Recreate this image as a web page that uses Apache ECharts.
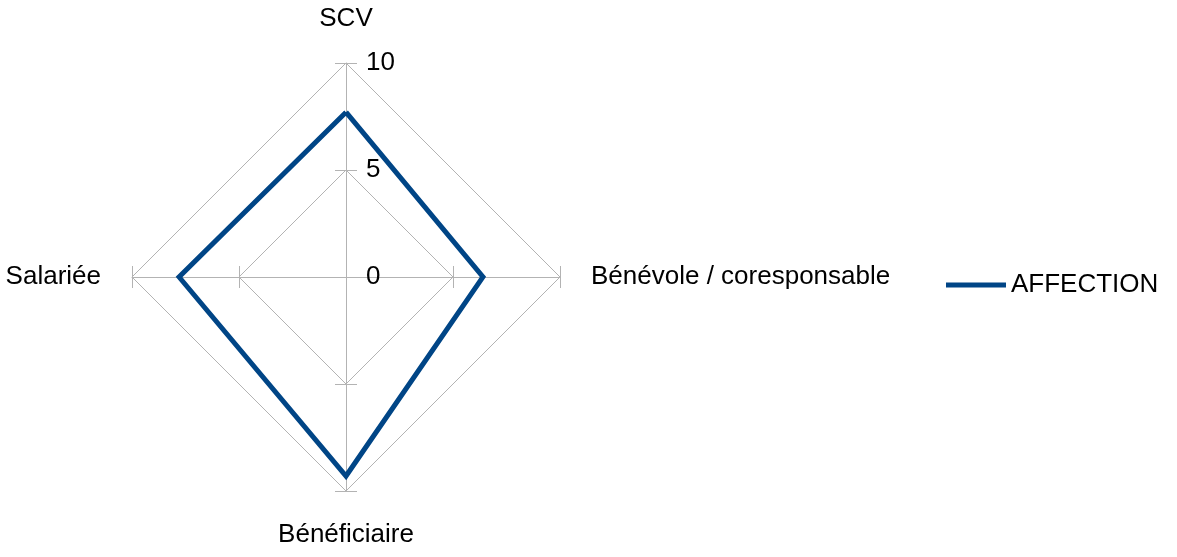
<!DOCTYPE html>
<html>
<head>
<meta charset="utf-8">
<script src="https://cdn.jsdelivr.net/npm/echarts@6/dist/echarts.min.js"></script>
<style>
  html, body { margin: 0; padding: 0; background: #fff; }
  #chart { width: 1177px; height: 557px; }
</style>
</head>
<body>
<div id="chart"></div>
<script>
// Radar axes, in drawing order (counter-clockwise from the top)
const axisNames = ['SCV', 'Salariée', 'Bénéficiaire', 'Bénévole / coresponsable'];
const affection = [7.7, 7.8, 9.3, 6.4];
const seriesName = 'AFFECTION';
const scaleMax = 10;
const scaleSplits = 2;

const FONT = 'Liberation Sans, Arial, sans-serif';
const FONT_SIZE = 26;
const GRID = '#b3b3b3';
const LINE = '#004586';

const center = [346, 277];
const radius = 214;

// only the vertical axis carries the scale labels, on its right-hand side
const indicators = axisNames.map((name, i) => {
  const ind = { name: name, min: 0, max: scaleMax };
  if (i === 0) ind.axisLabel = { show: true };
  return ind;
});

const chart = echarts.init(document.getElementById('chart'), null, { renderer: 'canvas' });
chart.setOption({
  animation: false,
  legend: {
    data: [seriesName],
    orient: 'vertical',
    left: 941,
    top: 267,
    icon: 'rect',
    itemWidth: 60,
    itemHeight: 5,
    itemGap: 10,
    textStyle: { fontFamily: FONT, fontSize: FONT_SIZE, color: '#000' }
  },
  radar: [
    {
      center: center,
      radius: radius,
      startAngle: 90,
      shape: 'polygon',
      splitNumber: scaleSplits,
      indicator: indicators,
      nameGap: 31,
      axisName: { color: '#000', fontFamily: FONT, fontSize: FONT_SIZE },
      axisLine: { show: true, lineStyle: { color: GRID, width: 1 } },
      axisTick: { show: true, length: 11, lineStyle: { color: GRID, width: 1 } },
      axisLabel: {
        show: false, color: '#000', fontFamily: FONT, fontSize: FONT_SIZE,
        margin: -20, align: 'left', verticalAlign: 'middle'
      },
      splitLine: { lineStyle: { color: GRID, width: 1 } },
      splitArea: { show: false }
    },
    {
      // mirrored ticks, so every tick crosses its axis
      center: center,
      radius: radius,
      startAngle: 90,
      shape: 'polygon',
      splitNumber: scaleSplits,
      indicator: axisNames.map(() => ({ name: '', min: 0, max: scaleMax })),
      axisName: { show: false },
      axisLine: { show: false },
      axisTick: { show: true, length: -11, lineStyle: { color: GRID, width: 1 } },
      axisLabel: { show: false },
      splitLine: { show: false },
      splitArea: { show: false }
    }
  ],
  series: [{
    type: 'radar',
    radarIndex: 0,
    name: seriesName,
    symbol: 'none',
    lineStyle: { color: LINE, width: 5, join: 'miter' },
    itemStyle: { color: LINE },
    data: [{ value: affection, name: seriesName }]
  }]
});
</script>
</body>
</html>
